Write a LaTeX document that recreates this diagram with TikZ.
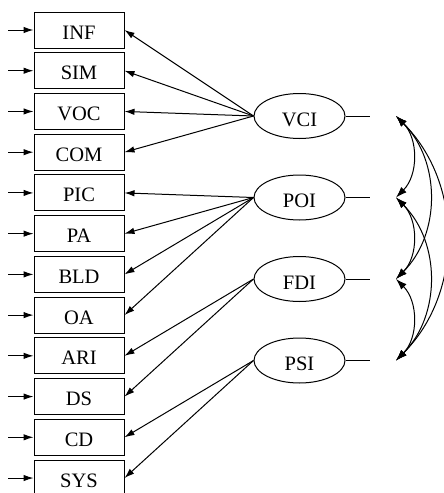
\documentclass[tikz,border=0pt]{standalone}
\usepackage{fontspec}
\setmainfont{Liberation Serif}
\usetikzlibrary{arrows.meta,shapes.geometric}
\begin{document}
\begin{tikzpicture}[x=1pt,y=-1pt,
  lbl/.style={font=\fontsize{20.5}{21}\selectfont},
  obs/.style={lbl, draw, line width=1pt, minimum width=90pt, minimum height=36pt,
              inner sep=0pt, text height=18pt, text depth=0pt},
  lat/.style={lbl, draw, ellipse, line width=1pt, minimum width=91pt, minimum height=45pt,
              inner sep=0pt, text height=20pt, text depth=0pt},
  tip/.style={-{Latex[length=10pt,width=6.5pt]}, line width=1pt},
  cov/.style={{Latex[length=11pt,width=7.5pt]}-{Latex[length=11pt,width=7.5pt]}, line width=1pt}
]
\useasboundingbox (0,0) rectangle (444,493);

% observed indicators with error arrows
\foreach \n [count=\i from 0] in {INF,SIM,VOC,COM,PIC,PA,BLD,OA,ARI,DS,CD,SYS} {
  \node[obs] (\n) at (79, 30+40.73*\i) {\n};
  \coordinate (e\n) at (8, 30+40.73*\i);
  \draw[tip] (e\n) -- (\n.west);
}

% latent factors
\foreach \f/\y in {VCI/116, POI/197.5, FDI/279, PSI/360.5} {
  \node[lat] (\f) at (299.5,\y) {\f};
  \coordinate (r\f) at (370,\y);
  \coordinate (c\f) at (396,\y);
  \draw[line width=1pt] (\f.east) -- (r\f);
}

% loadings
\foreach \f/\n in {VCI/INF,VCI/SIM,VCI/VOC,VCI/COM,
                   POI/PIC,POI/PA,POI/BLD,POI/OA,
                   FDI/ARI,FDI/DS,PSI/CD,PSI/SYS} {
  \draw[tip] (\f.west) -- (\n.east);
}

% factor covariances
\draw[cov] (cVCI) to[bend left=45] (cPOI);
\draw[cov] (cVCI) to[bend left=45] (cFDI);
\draw[cov] (cVCI) to[bend left=45] (cPSI);
\draw[cov] (cPOI) to[bend left=45] (cFDI);
\draw[cov] (cPOI) to[bend left=45] (cPSI);
\draw[cov] (cFDI) to[bend left=45] (cPSI);
\end{tikzpicture}
\end{document}
